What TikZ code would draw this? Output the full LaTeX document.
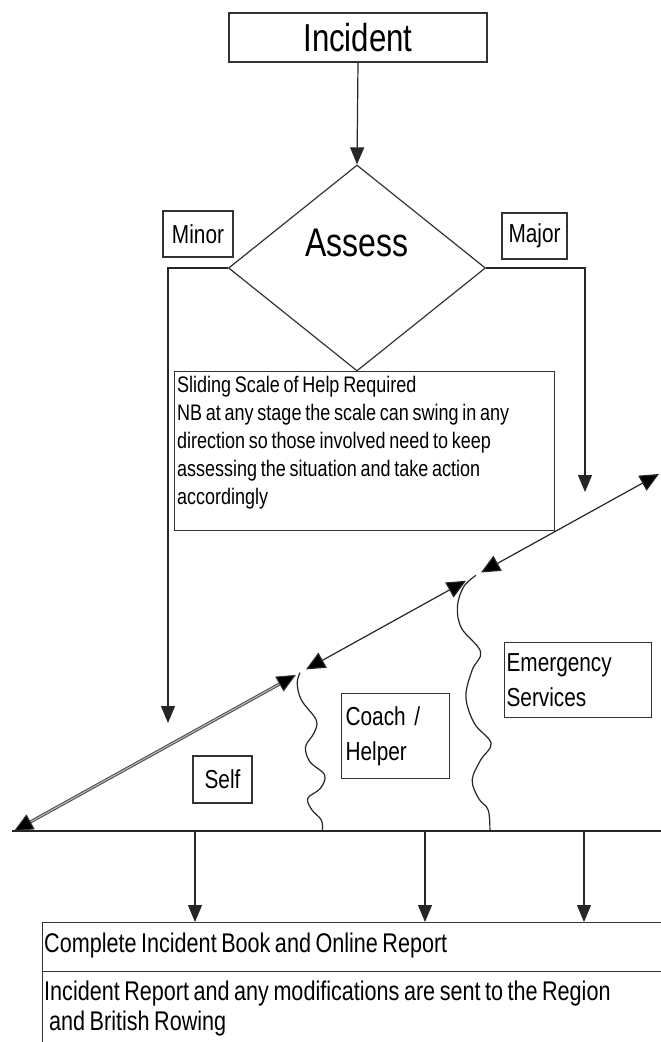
\documentclass[tikz,border=0pt]{standalone}
\usepackage{fontspec}
\newfontfamily\nar{Liberation Sans}[FakeStretch=0.8, WordSpace=0.75]
\usetikzlibrary{arrows.meta,shapes.geometric}
\begin{document}
\begin{tikzpicture}[x=1pt,y=-1pt,
  ln/.style={draw=black!85, line width=1.2pt},
  arr/.style={ln, -{Triangle[length=17pt,width=14pt]}},
  darr/.style={ln, {Triangle[length=19pt,width=17pt,fill=black]}-{Triangle[length=19pt,width=17pt,fill=black]}},
  box/.style={draw=black!80, line width=1.2pt, inner sep=0pt},
  lbl/.style={box, font=\nar\fontsize{26}{35}\selectfont},
  txt/.style={anchor=north west, inner sep=0pt, align=left, font=\nar\fontsize{27}{30}\selectfont},
  ]
\useasboundingbox[fill=white] (0,0) rectangle (661,1042);
% top
\node[box, minimum width=258pt, minimum height=49pt, font=\nar\fontsize{39}{40}\selectfont] (incident) at (358,37.5) {Incident};
\node[box, diamond, minimum width=257pt, minimum height=206pt] (assess) at (357,268) {};
\node[inner sep=0pt, font=\nar\fontsize{40}{40}\selectfont] (assesstxt) at (357,243) {Assess};
\draw[arr] (incident.south) -- (assess.north);
\node[lbl, minimum width=70pt, minimum height=46pt] (minor) at (198,234) {Minor};
\node[lbl, minimum width=65pt, minimum height=46pt] (major) at (534.5,236) {Major};
\coordinate (lefttip) at (168,723);
\coordinate (righttip) at (585,492);
\draw[arr] (assess.west) -| (lefttip);
\draw[arr] (assess.east) -| (righttip);
% sliding scale box
\node[box, anchor=north west, minimum width=380pt, minimum height=159pt] (slide) at (174,371) {};
\node[txt, font=\nar\fontsize{22.5}{28}\selectfont] (slidetxt) at (177,376)
  {Sliding Scale of Help Required\\NB at any stage the scale can swing in any\\direction so those involved need to keep\\assessing the situation and take action\\accordingly};
% diagonal scale
\coordinate (dA) at (14,831);
\coordinate (d1e) at (296,674.9);
\coordinate (d2s) at (306,669.4);
\coordinate (d2e) at (466,580.8);
\coordinate (d3s) at (481,572.5);
\coordinate (dT) at (659,474);
\coordinate (w1) at (300,672.7);
\coordinate (w2) at (476,575.3);
\draw[darr, line width=0.9pt, draw=black!75, double=black!30, double distance=1.3pt] (dA) -- (d1e);
\draw[darr] (d2s) -- (d2e);
\draw[darr] (d3s) -- (dT);
% baseline
\coordinate (bl) at (12,831);
\coordinate (br) at (661,831);
\draw[ln] (bl) -- (br);
% waves
\coordinate (w1b) at (322.5,831);
\coordinate (w2b) at (489.9,831);
\draw[ln] plot[smooth, tension=0.6] coordinates {(w1) (297.2,683.3) (301.4,700) (316.2,720) (314,733) (305.6,746.7) (309.9,761.7) (324.6,775) (320.4,788.3) (307.8,798.3) (312,810) (321.3,820) (w1b)};
\draw[ln] plot[smooth, tension=0.6] coordinates {(w2) (463.7,586.7) (457.4,606.7) (461.6,628.3) (480.6,651.7) (472.2,670) (465.9,696.7) (474.3,723.3) (491.1,743.3) (480.6,760) (472.2,780) (478.5,798.3) (488.2,810) (w2b)};
% level labels
\node[lbl, minimum width=59pt, minimum height=47pt] (self) at (222.5,779.5) {Self};
\node[lbl, anchor=north west, text width=100pt, inner xsep=4pt, minimum height=85pt, align=left] (coach) at (341,693) {Coach /\\Helper};
\node[lbl, anchor=north west, text width=143pt, inner xsep=2pt, minimum height=75pt, align=left] (emerg) at (504,642) {Emergency\\Services};
% bottom
\node[box, anchor=north west, minimum width=640pt, minimum height=49pt] (complete) at (42,922) {};
\node[txt] (completetxt) at (44,933) {Complete Incident Book and Online Report};
\node[box, anchor=north west, minimum width=640pt, minimum height=100pt] (sent) at (42,971) {};
\node[txt] (senttxt) at (44,981)
  {Incident Report and any modifications are sent to the Region\\\hspace*{5pt}and British Rowing};
\coordinate (b1) at (195,831);
\coordinate (b2) at (425,831);
\coordinate (b3) at (584,831);
\draw[arr] (b1) -- (b1 |- complete.north);
\draw[arr] (b2) -- (b2 |- complete.north);
\draw[arr] (b3) -- (b3 |- complete.north);
\end{tikzpicture}
\end{document}
